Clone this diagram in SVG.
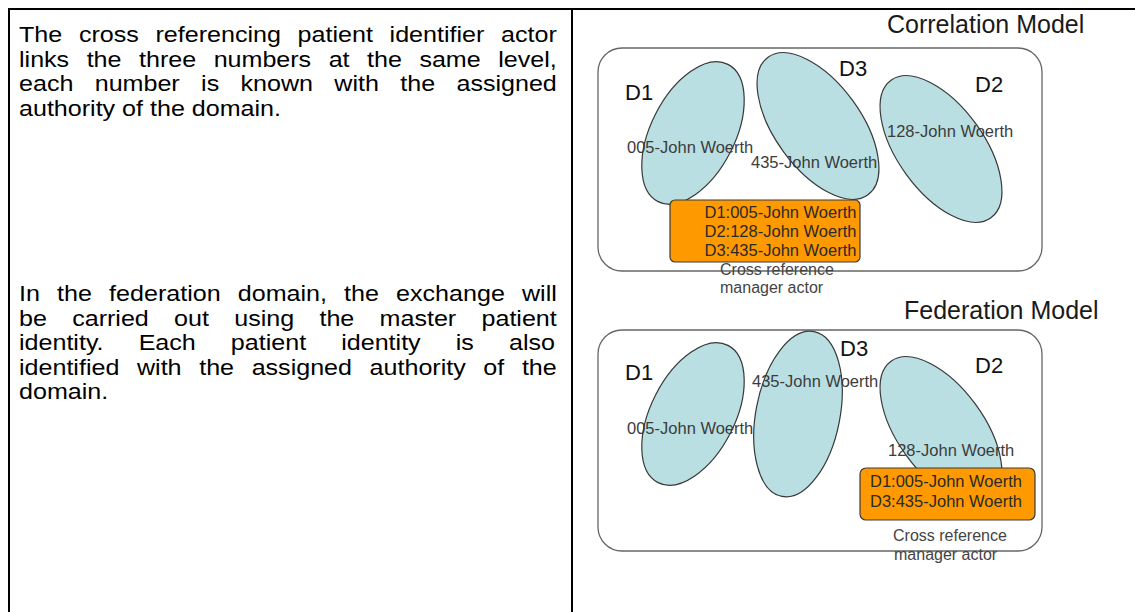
<svg xmlns="http://www.w3.org/2000/svg" width="1135" height="612" viewBox="0 0 1135 612">
  <style>
    .frame { stroke: #000; stroke-width: 2; fill: none; }
    .body { font-family: "Liberation Sans", Arial, sans-serif; font-size: 22px; fill: #000; }
    .title { font-family: "Liberation Sans", Arial, sans-serif; font-size: 25px; fill: #1a1a1a; }
    .dom { font-family: "Liberation Sans", Arial, sans-serif; font-size: 22px; fill: #111; }
    .pid { font-family: "Liberation Sans", Arial, sans-serif; font-size: 16.5px; fill: #3c3c3c; }
    .xref { font-family: "Liberation Sans", Arial, sans-serif; font-size: 16.5px; fill: #2a2a2a; }
    .cap { font-family: "Liberation Sans", Arial, sans-serif; font-size: 16px; fill: #444; }
    .model { fill: #fff; stroke: #666; stroke-width: 1.3; }
    .domain { fill: #b9dfe2; stroke: #383838; stroke-width: 1.2; }
    .actor { fill: #ff9900; stroke: #3a3a3a; stroke-width: 1.2; }
  </style>

  <rect width="1135" height="612" fill="#fff"/>

  <!-- table rules -->
  <g id="frame" class="frame">
    <line x1="8" y1="9" x2="1135" y2="9"/>
    <line x1="9" y1="8" x2="9" y2="612"/>
    <line x1="572" y1="8" x2="572" y2="612"/>
  </g>

  <!-- explanatory text: justified column, set slightly wide -->
  <g id="text-correlation" class="body" transform="scale(1.14 1)">
    <text x="16.67" y="42.5" word-spacing="8.54">The cross referencing patient identifier actor</text>
    <text x="16.67" y="67" word-spacing="9.24">links the three numbers at the same level,</text>
    <text x="16.67" y="91.5" word-spacing="12.62">each number is known with the assigned</text>
    <text x="16.67" y="116">authority of the domain.</text>
  </g>
  <g id="text-federation" class="body" transform="scale(1.14 1)">
    <text x="16.67" y="301.5" word-spacing="8.95">In the federation domain, the exchange will</text>
    <text x="16.67" y="326" word-spacing="16.08">be carried out using the master patient</text>
    <text x="16.67" y="350.5" word-spacing="24.68">identity. Each patient identity is also</text>
    <text x="16.67" y="375" word-spacing="9.35">identified with the assigned authority of the</text>
    <text x="16.67" y="399.5">domain.</text>
  </g>

  <!-- Correlation model -->
  <g id="correlation-model">
    <text class="title" x="887" y="33">Correlation Model</text>
    <rect class="model" x="598" y="48" width="444" height="223" rx="24"/>
    <g id="corr-d1">
      <ellipse class="domain" cx="693" cy="133" rx="42" ry="77" transform="rotate(27 693 133)"/>
      <text class="dom" x="625" y="100">D1</text>
      <text class="pid" x="627" y="153">005-John Woerth</text>
    </g>
    <g id="corr-d3">
      <ellipse class="domain" cx="818" cy="126" rx="43" ry="85" transform="rotate(-36 818 126)"/>
      <text class="dom" x="839" y="76">D3</text>
      <text class="pid" x="751" y="168">435-John Woerth</text>
    </g>
    <g id="corr-d2">
      <ellipse class="domain" cx="941" cy="149" rx="43" ry="85" transform="rotate(-36 941 149)"/>
      <text class="dom" x="975" y="92">D2</text>
      <text class="pid" x="887" y="137">128-John Woerth</text>
    </g>
    <g id="corr-xref">
      <rect class="actor" x="670" y="200" width="190" height="62" rx="5"/>
      <text class="xref" x="704.5" y="218">D1:005-John Woerth</text>
      <text class="xref" x="704.5" y="237">D2:128-John Woerth</text>
      <text class="xref" x="704.5" y="256">D3:435-John Woerth</text>
      <text class="cap" x="720" y="275">Cross reference</text>
      <text class="cap" x="720" y="293">manager actor</text>
    </g>
  </g>

  <!-- Federation model -->
  <g id="federation-model">
    <text class="title" x="904" y="319">Federation Model</text>
    <rect class="model" x="598" y="330" width="444" height="221" rx="24"/>
    <g id="fed-d1">
      <ellipse class="domain" cx="693" cy="414" rx="42" ry="77" transform="rotate(27 693 414)"/>
      <text class="dom" x="625" y="380">D1</text>
      <text class="pid" x="627" y="434">005-John Woerth</text>
    </g>
    <g id="fed-d3">
      <ellipse class="domain" cx="798" cy="414" rx="42" ry="84" transform="rotate(11 798 414)"/>
      <text class="dom" x="840" y="356">D3</text>
      <text class="pid" x="752" y="387">435-John Woerth</text>
    </g>
    <g id="fed-d2">
      <ellipse class="domain" cx="941" cy="430" rx="43" ry="85" transform="rotate(-36 941 430)"/>
      <text class="dom" x="975" y="373">D2</text>
      <text class="pid" x="888" y="456">128-John Woerth</text>
    </g>
    <g id="fed-xref">
      <rect class="actor" x="860" y="468" width="175" height="52" rx="6"/>
      <text class="xref" x="870" y="487">D1:005-John Woerth</text>
      <text class="xref" x="870" y="506.5">D3:435-John Woerth</text>
      <text class="cap" x="893" y="541">Cross reference</text>
      <text class="cap" x="894" y="560">manager actor</text>
    </g>
  </g>
</svg>
